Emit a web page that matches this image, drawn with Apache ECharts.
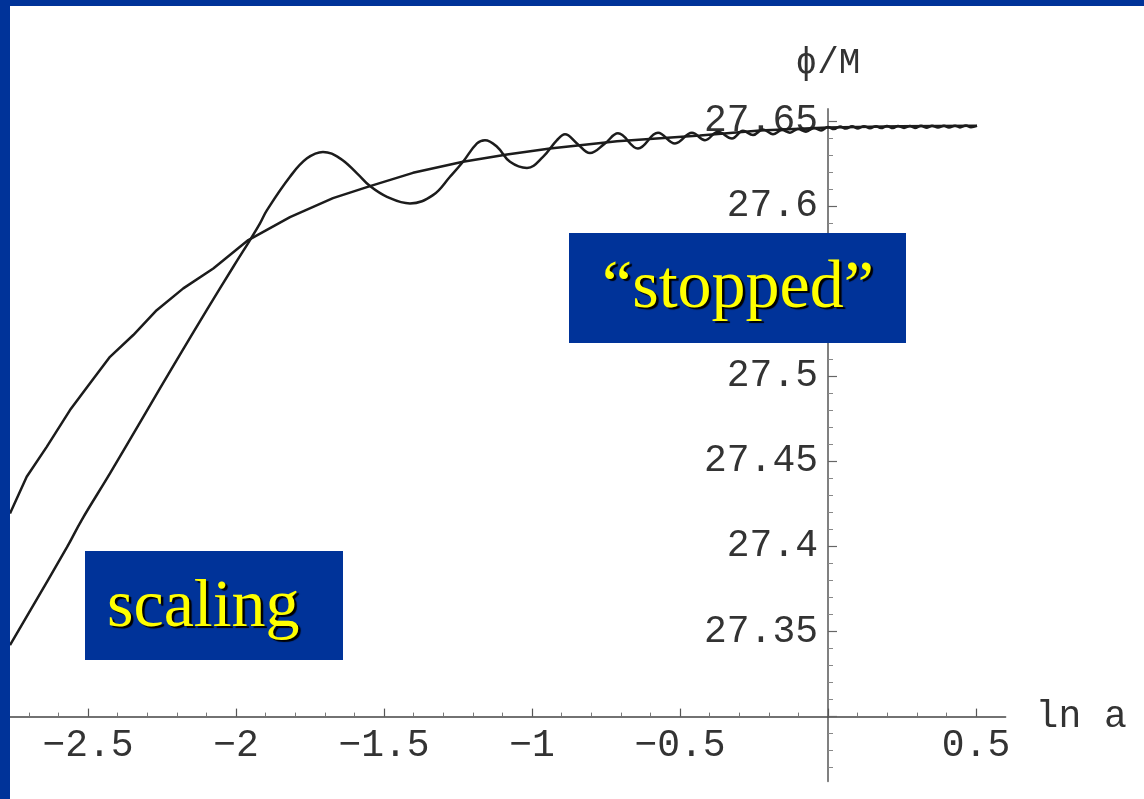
<!DOCTYPE html>
<html>
<head>
<meta charset="utf-8">
<script src="https://cdn.jsdelivr.net/npm/echarts@6/dist/echarts.min.js"></script>
<style>
html,body{margin:0;padding:0;background:#ffffff;}
#chart{width:1144px;height:799px;}
</style>
</head>
<body>
<div id="chart"></div>
<script>
// ---- data ----
const smoothX = [-2.7635, -2.7071, -2.6395, -2.5608, -2.4932, -2.4257, -2.3470, -2.2679, -2.1780, -2.0767,
  -1.9584, -1.8176, -1.6723, -1.5473, -1.4020, -1.2331, -1.0845, -0.9392, -0.7128, -0.4324, -0.2297, 0, 0.2432, 0.5034];
const smoothY = [27.4194, 27.4409, 27.4585, 27.4801, 27.4958, 27.5114, 27.5242, 27.5388, 27.5516, 27.5633,
  27.5800, 27.5935, 27.6046, 27.6117, 27.6195, 27.6260, 27.6303, 27.6338, 27.6381, 27.6415, 27.6443, 27.6462, 27.6468, 27.6471];

const oscX = [-2.7635, -2.5709, -2.5213, -2.4257, -2.3132, -2.2003, -2.0990, -2.0091, -1.9527, -1.9189,
  -1.8953, -1.8176, -1.7601, -1.7061, -1.6486, -1.5912, -1.5473, -1.4899, -1.4122, -1.3345,
  -1.2770, -1.2331, -1.1858, -1.1588, -1.1182, -1.0743, -1.0169, -0.9628, -0.9155, -0.8885,
  -0.8480, -0.8041, -0.7534, -0.7095, -0.6419, -0.5743, -0.5169, -0.4595, -0.4155, -0.3716,
  -0.3243, -0.2872, -0.2534, -0.2196, -0.1858, -0.1554, -0.1284, -0.1014, -0.0743, -0.0473,
  -0.0236, 0, 0.0203, 0.0405, 0.0608, 0.0811, 0.1014, 0.1216, 0.1419, 0.1622,
  0.1791, 0.1993, 0.2196, 0.2365, 0.2568, 0.2770, 0.2939, 0.3142, 0.3345, 0.3514,
  0.3716, 0.3919, 0.4088, 0.4291, 0.4459, 0.4662, 0.4831, 0.5034];
const oscY = [27.3420, 27.3996, 27.4155, 27.4429, 27.4761, 27.5095, 27.5388, 27.5643, 27.5800, 27.5898,
  27.5976, 27.6172, 27.6280, 27.6318, 27.6280, 27.6192, 27.6117, 27.6054, 27.6015, 27.6064,
  27.6172, 27.6260, 27.6368, 27.6387, 27.6348, 27.6260, 27.6224, 27.6289, 27.6387, 27.6421,
  27.6368, 27.6311, 27.6368, 27.6427, 27.6338, 27.6430, 27.6368, 27.6430, 27.6387, 27.6436,
  27.6397, 27.6442, 27.6417, 27.6450, 27.6422, 27.6446, 27.6431, 27.6452, 27.6437, 27.6458,
  27.6444, 27.6464, 27.6452, 27.6467, 27.6455, 27.6468, 27.6456, 27.6469, 27.6457, 27.6469,
  27.6458, 27.6470, 27.6458, 27.6470, 27.6459, 27.6470, 27.6459, 27.6471, 27.6460, 27.6471,
  27.6461, 27.6472, 27.6461, 27.6472, 27.6462, 27.6473, 27.6463, 27.6471];

const xTickValues = [-2.5, -2, -1.5, -1, -0.5, 0, 0.5];
const xLabelValues = [-2.5, -2, -1.5, -1, -0.5, 0.5];
const yTickValues = [27.3, 27.35, 27.4, 27.45, 27.5, 27.55, 27.6, 27.65];
const yLabelValues = [27.35, 27.4, 27.45, 27.5, 27.55, 27.6, 27.65];

const xName = 'ln a';
const yName = 'ϕ/M';
const boxTexts = ['“stopped”', 'scaling'];

// ---- chart ----
const chart = echarts.init(document.getElementById('chart'), null, {renderer: 'canvas'});
const mono = '"Liberation Mono", "Courier New", monospace';
const lineCol = '#1c1c1c';
const shadowText = {
  fill: '#ffff00', font: '68px "Liberation Serif", serif',
  textShadowColor: '#000', textShadowOffsetX: 2.5, textShadowOffsetY: 2.5, textShadowBlur: 1
};

const option = {
  backgroundColor: '#ffffff',
  animation: false,
  grid: {left: 10, top: 109, width: 995.6, height: 672.3, containLabel: false, outerBoundsMode: 'none'},
  xAxis: {
    type: 'value', min: -2.7635, max: 0.6, splitNumber: 7,
    position: 'bottom', offset: -64.7,
    axisLine: {onZero: false, lineStyle: {color: '#444', width: 1.5}},
    axisTick: {inside: true, length: 8, customValues: xTickValues, lineStyle: {color: '#555', width: 1.2}},
    minorTick: {show: true, splitNumber: 5, length: 4, lineStyle: {color: '#777', width: 1}},
    splitLine: {show: false},
    axisLabel: {
      customValues: xLabelValues, margin: 10, color: '#333',
      fontFamily: mono, fontSize: 38,
      formatter: v => String(v).replace('-', '\u2212')
    },
    name: xName, nameLocation: 'end', nameGap: 30,
    nameTextStyle: {fontFamily: mono, fontSize: 38, color: '#333', verticalAlign: 'middle', align: 'left'}
  },
  yAxis: {
    type: 'value', min: 27.262, max: 27.657, splitNumber: 8,
    position: 'left', offset: -818,
    axisLine: {onZero: false, lineStyle: {color: '#808080', width: 2}},
    axisTick: {inside: true, length: 9, customValues: yTickValues, lineStyle: {color: '#666', width: 1.2}},
    minorTick: {show: true, splitNumber: 5, length: 5, lineStyle: {color: '#888', width: 1}},
    splitLine: {show: false},
    axisLabel: {
      customValues: yLabelValues, margin: 10, color: '#333',
      fontFamily: mono, fontSize: 38,
      formatter: v => String(Math.round(v * 100) / 100)
    },
    name: yName, nameLocation: 'end', nameGap: 28,
    nameTextStyle: {fontFamily: mono, fontSize: 36, color: '#333', align: 'center'}
  },
  series: [
    {
      type: 'line', name: 'smooth', showSymbol: false, smooth: false,
      data: smoothX.map((x, i) => [x, smoothY[i]]),
      lineStyle: {color: lineCol, width: 2.5}, z: 3
    },
    {
      type: 'line', name: 'oscillating', showSymbol: false, smooth: 0.4,
      data: oscX.map((x, i) => [x, oscY[i]]),
      lineStyle: {color: lineCol, width: 2.5}, z: 3
    }
  ],
  graphic: [
    {type: 'rect', shape: {x: 0, y: 0, width: 1144, height: 6}, style: {fill: '#003399'}, z: 100},
    {type: 'rect', shape: {x: 0, y: 0, width: 10, height: 799}, style: {fill: '#003399'}, z: 100},
    {type: 'rect', shape: {x: 569, y: 233, width: 337, height: 110}, style: {fill: '#003399'}, z: 100},
    {type: 'text', x: 738, y: 289, z: 101,
      style: Object.assign({text: boxTexts[0], align: 'center', verticalAlign: 'middle'}, shadowText)},
    {type: 'rect', shape: {x: 85, y: 551, width: 258, height: 109}, style: {fill: '#003399'}, z: 100},
    {type: 'text', x: 107, y: 608, z: 101,
      style: Object.assign({text: boxTexts[1], align: 'left', verticalAlign: 'middle'}, shadowText)}
  ]
};
chart.setOption(option);
</script>
</body>
</html>
